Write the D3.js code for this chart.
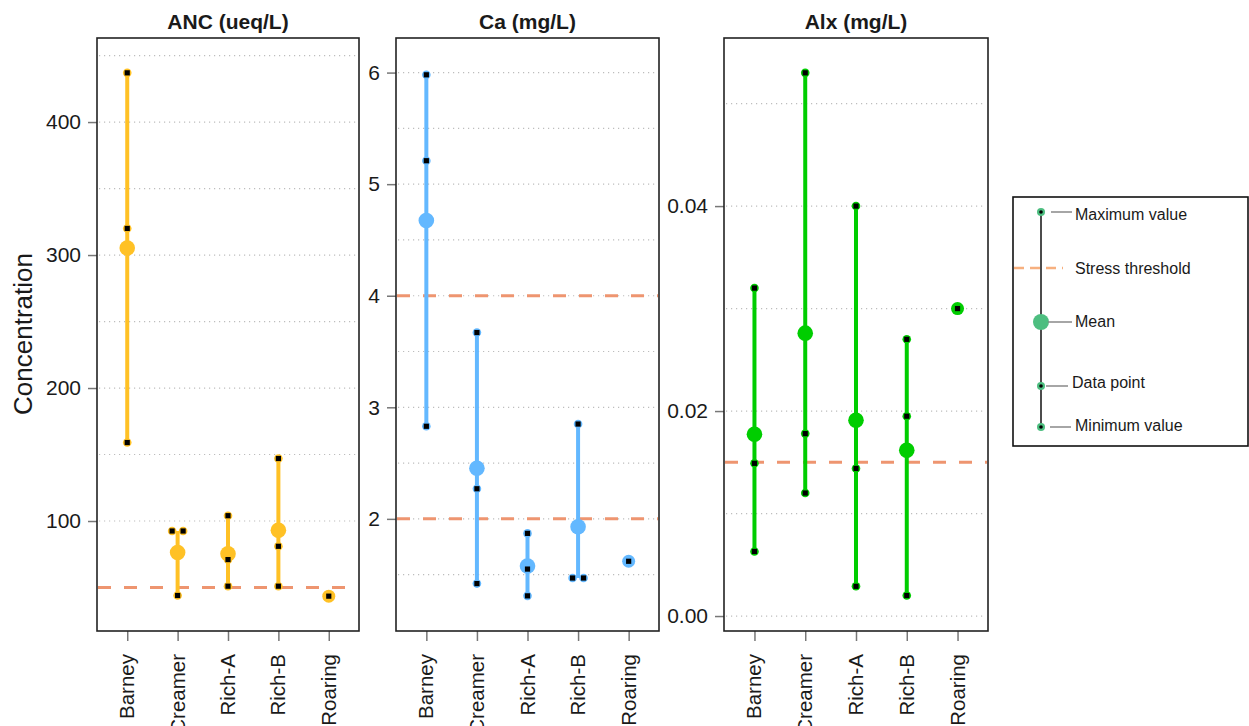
<!DOCTYPE html>
<html><head><meta charset="utf-8">
<script src="https://cdn.jsdelivr.net/npm/d3@7/dist/d3.min.js"></script>
<style>
body{margin:0;background:#fff;}
text{font-family:"Liberation Sans",Arial,sans-serif;fill:#1a1a1a;}
</style></head>
<body>
<svg id="chart" width="1249" height="726"></svg>
<script>
// ---------- data ----------
const sites = ["Barney", "Creamer", "Rich-A", "Rich-B", "Roaring"];
const ancValues = [[437, 320, 159], [92.5, 92.5, 44], [104, 71, 51], [147, 81, 51], [43.5]];
const caValues  = [[5.98, 5.21, 2.83], [3.67, 2.27, 1.42], [1.87, 1.55, 1.31], [2.85, 1.47, 1.47], [1.62]];
const alxValues = [[0.032, 0.0149, 0.0063], [0.053, 0.0178, 0.012], [0.040, 0.0144, 0.0029], [0.027, 0.0195, 0.002], [0.030]];
const ancThresholds = [50];
const caThresholds = [4, 2];
const alxThresholds = [0.015];
const ancTicks = [100, 200, 300, 400];
const caTicks = [2, 3, 4, 5, 6];
const alxTicks = [0, 0.02, 0.04];
const ancGrid = [100, 150, 200, 250, 300, 350, 400, 450];
const caGrid = [1.5, 2, 2.5, 3, 3.5, 4, 4.5, 5, 5.5, 6];
const alxGrid = [0, 0.01, 0.02, 0.03, 0.04, 0.05];
const legendItems = ["Maximum value", "Stress threshold", "Mean", "Data point", "Minimum value"];

// ---------- panels ----------
const panels = [
  {title: "ANC (ueq/L)", values: ancValues, thr: ancThresholds, ticks: ancTicks, grid: ancGrid,
   domain: [17.3, 463.2], color: "#FFC125", x0: 97, x1: 359, fmt: d3.format("d")},
  {title: "Ca (mg/L)", values: caValues, thr: caThresholds, ticks: caTicks, grid: caGrid,
   domain: [0.995, 6.31], color: "#63B8FF", x0: 396, x1: 659, fmt: d3.format("d")},
  {title: "Alx (mg/L)", values: alxValues, thr: alxThresholds, ticks: alxTicks, grid: alxGrid,
   domain: [-0.00146, 0.0564], color: "#00CD00", x0: 724, x1: 988, fmt: d3.format(".2f")}
];
const plotTop = 38, plotBottom = 631;
const svg = d3.select("#chart");

panels.forEach(p => {
  const g = svg.append("g");
  const x = d3.scalePoint().domain(sites).range([p.x0, p.x1]).padding(0.6);
  const y = d3.scaleLinear().domain(p.domain).range([plotBottom, plotTop]);

  // grid
  g.selectAll(".grid").data(p.grid).join("line")
    .attr("x1", p.x0 + 2).attr("x2", p.x1 - 2)
    .attr("y1", d => y(d)).attr("y2", d => y(d))
    .attr("stroke", "#bdbdbd").attr("stroke-width", 1.2).attr("stroke-dasharray", "1.2,3.8");

  // thresholds
  g.selectAll(".thr").data(p.thr).join("line")
    .attr("x1", p.x0 + 1).attr("x2", p.x1 - 1)
    .attr("y1", d => y(d)).attr("y2", d => y(d))
    .attr("stroke", "#EE9570").attr("stroke-width", 3).attr("stroke-dasharray", "13,13");

  // y axis
  const ya = d3.axisLeft(y).tickValues(p.ticks).tickFormat(p.fmt).tickSize(9).tickPadding(7);
  const yg = g.append("g").attr("transform", `translate(${p.x0},0)`).call(ya);
  yg.select(".domain").remove();
  yg.selectAll(".tick line").attr("stroke", "#777").attr("stroke-width", 1.5);
  yg.selectAll(".tick text").style("font-size", "21px").attr("fill", "#1a1a1a");

  // x axis
  const xa = d3.axisBottom(x).tickSize(10).tickFormat("");
  const xg = g.append("g").attr("transform", `translate(0,${plotBottom})`).call(xa);
  xg.select(".domain").remove();
  xg.selectAll(".tick line").attr("stroke", "#777").attr("stroke-width", 1.5);
  g.selectAll(".xlab").data(sites).join("text")
    .attr("transform", d => `translate(${x(d) + 7},654) rotate(-90)`)
    .attr("text-anchor", "end").style("font-size", "20.5px").text(d => d);

  // ranges
  const groups = sites.map((s, i) => ({site: s, vals: p.values[i], mean: d3.mean(p.values[i])}));
  g.selectAll(".rng").data(groups.filter(d => d.vals.length > 1)).join("line")
    .attr("x1", d => x(d.site)).attr("x2", d => x(d.site))
    .attr("y1", d => y(d3.max(d.vals))).attr("y2", d => y(d3.min(d.vals)))
    .attr("stroke", p.color).attr("stroke-width", 4);

  // means
  g.selectAll(".mean").data(groups).join("circle")
    .attr("cx", d => x(d.site)).attr("cy", d => y(d.mean)).attr("r", d => d.vals.length > 1 ? 7.8 : 6.5)
    .attr("fill", p.color);

  // points (offset duplicates)
  const pts = [];
  groups.forEach(gr => {
    gr.vals.forEach((v, j) => {
      const dups = gr.vals.filter(w => w === v).length;
      const k = gr.vals.slice(0, j).filter(w => w === v).length;
      pts.push({site: gr.site, v, off: dups > 1 ? (k - (dups - 1) / 2) * 11 : 0});
    });
  });
  g.selectAll(".pc").data(pts).join("circle")
    .attr("cx", d => x(d.site) + d.off).attr("cy", d => y(d.v)).attr("r", 4.3).attr("fill", p.color);
  g.selectAll(".ps").data(pts).join("rect")
    .attr("x", d => x(d.site) + d.off - 2.6).attr("y", d => y(d.v) - 2.6)
    .attr("width", 5.2).attr("height", 5.2).attr("fill", "#000");

  // box
  g.append("rect").attr("x", p.x0).attr("y", plotTop).attr("width", p.x1 - p.x0).attr("height", plotBottom - plotTop)
    .attr("fill", "none").attr("stroke", "#222").attr("stroke-width", 1.6);

  // title
  g.append("text").attr("x", (p.x0 + p.x1) / 2).attr("y", 29).attr("text-anchor", "middle")
    .style("font-size", "21px").style("font-weight", "bold").text(p.title);
});

// y label
svg.append("text").attr("transform", "translate(32,334) rotate(-90)").attr("text-anchor", "middle")
  .style("font-size", "26px").text("Concentration");

// ---------- legend ----------
const lg = svg.append("g");
const lgGreen = "#4DBE80";
lg.append("rect").attr("x", 1013).attr("y", 197).attr("width", 235).attr("height", 249)
  .attr("fill", "#fff").attr("stroke", "#111").attr("stroke-width", 1.6);
const lx = 1041;
const ly = [212, 268, 322, 386, 427];
lg.append("line").attr("x1", lx).attr("x2", lx).attr("y1", ly[0]).attr("y2", ly[4])
  .attr("stroke", "#111").attr("stroke-width", 1.5);
lg.append("line").attr("x1", 1014).attr("x2", 1063).attr("y1", ly[1]).attr("y2", ly[1])
  .attr("stroke", "#F7B07F").attr("stroke-width", 2.5).attr("stroke-dasharray", "10,6");
lg.append("circle").attr("cx", lx).attr("cy", ly[2]).attr("r", 8).attr("fill", lgGreen);
[0, 3, 4].forEach(i => {
  lg.append("circle").attr("cx", lx).attr("cy", ly[i]).attr("r", 4).attr("fill", lgGreen);
  lg.append("circle").attr("cx", lx).attr("cy", ly[i]).attr("r", 1.8).attr("fill", "#000");
});
const connectors = [[1051, 1072], null, [1048, 1072], [1046, 1068], [1050, 1071]];
const textX = [1075, 1075, 1075, 1072, 1075];
const textY = [214, 268, 321, 382, 425];
legendItems.forEach((t, i) => {
  if (connectors[i]) lg.append("line").attr("x1", connectors[i][0]).attr("x2", connectors[i][1])
    .attr("y1", ly[i]).attr("y2", ly[i]).attr("stroke", "#888").attr("stroke-width", 1.5);
  lg.append("text").attr("x", textX[i]).attr("y", textY[i]).attr("dy", "0.35em")
    .style("font-size", "16px").text(t);
});
</script>
</body></html>
